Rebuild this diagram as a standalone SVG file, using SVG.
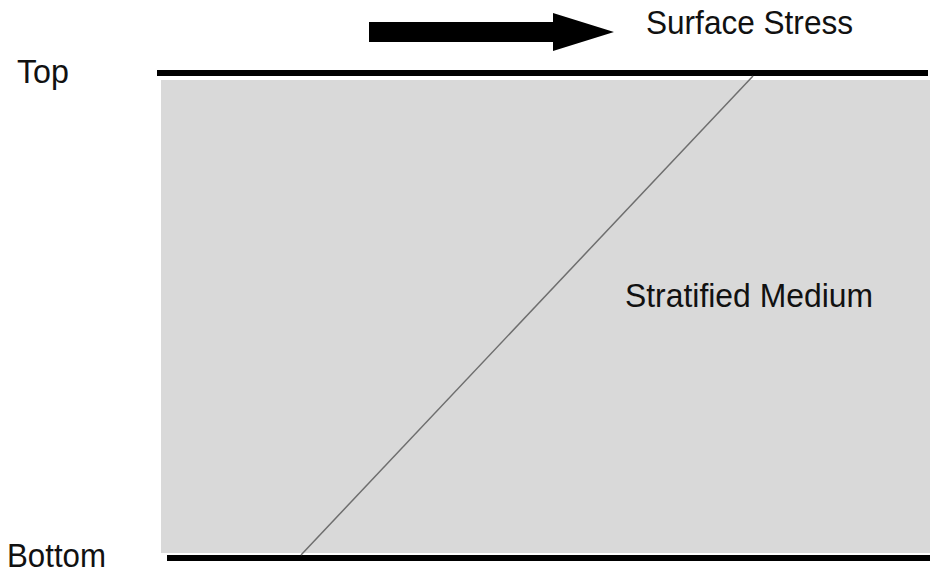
<svg xmlns="http://www.w3.org/2000/svg" width="930" height="573" viewBox="0 0 930 573">
<style>
.lbl{font-family:"Liberation Sans",Arial,sans-serif;font-size:30px;fill:#111;}
.edge{stroke:#000;stroke-width:6;fill:none;}
</style>
<rect width="930" height="573" fill="#fff"/>
<g id="medium">
<rect x="161" y="80" width="769" height="473" fill="#d9d9d9"/>
<text class="lbl" transform="translate(625,307) scale(1,1.12)" textLength="248" lengthAdjust="spacingAndGlyphs">Stratified Medium</text>
</g>
<g id="top">
<line class="edge" x1="157" y1="73" x2="928" y2="73"/>
<text class="lbl" transform="translate(17,83) scale(1,1.12)" textLength="52" lengthAdjust="spacingAndGlyphs">Top</text>
</g>
<g id="bottom">
<line class="edge" x1="167" y1="558" x2="930" y2="558"/>
<text class="lbl" transform="translate(7,567) scale(1,1.12)" textLength="99" lengthAdjust="spacingAndGlyphs">Bottom</text>
</g>
<g id="stress">
<polygon points="369,22 553,22 553,13 614,32 553,51 553,42 369,42" fill="#000"/>
<text class="lbl" transform="translate(646,34) scale(1,1.1)" textLength="207" lengthAdjust="spacingAndGlyphs">Surface Stress</text>
</g>
<g id="connectors">
<line x1="753" y1="76" x2="301" y2="555" stroke="#6e6e6e" stroke-width="1.5"/>
</g>
</svg>
